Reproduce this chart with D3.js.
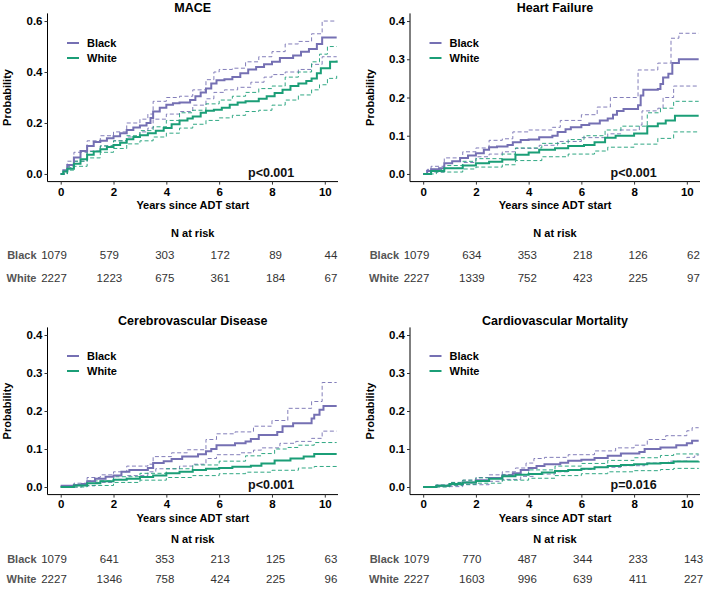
<!DOCTYPE html>
<html><head><meta charset="utf-8">
<script src="https://cdn.jsdelivr.net/npm/d3@7"></script>
<style>body{margin:0;background:#fff;}svg{display:block;font-family:"Liberation Sans",Arial,Helvetica,sans-serif;}</style>
</head><body><svg id="c" width="705" height="598"></svg>
<script>
// ---------- DATA ----------
const groups = ["Black", "White"];
const panelTitles = ["MACE", "Heart Failure", "Cerebrovascular Disease", "Cardiovascular Mortality"];
const pValues = ["p<0.001", "p<0.001", "p<0.001", "p=0.016"];
const timeTicks = [0, 2, 4, 6, 8, 10];
const yTicksMACE = [0, 0.2, 0.4, 0.6];
const yTicksOther = [0, 0.1, 0.2, 0.3, 0.4];
const riskLabel = "N at risk";
const xLabel = "Years since ADT start";
const yLabel = "Probability";

// N at risk
const riskMACE_Black = [1079, 579, 303, 172, 89, 44];
const riskMACE_White = [2227, 1223, 675, 361, 184, 67];
const riskHF_Black = [1079, 634, 353, 218, 126, 62];
const riskHF_White = [2227, 1339, 752, 423, 225, 97];
const riskCVD_Black = [1079, 641, 353, 213, 125, 63];
const riskCVD_White = [2227, 1346, 758, 424, 225, 96];
const riskCVM_Black = [1079, 770, 487, 344, 233, 143];
const riskCVM_White = [2227, 1603, 996, 639, 411, 227];

// Cumulative incidence curves [time, probability] (step after)
const maceBlackEst = [[0,0],[0.1,0.015],[0.25,0.035],[0.5,0.065],[0.75,0.09],[1.0,0.11],[1.25,0.125],[1.5,0.13],[1.75,0.14],[2.0,0.148],[2.25,0.16],[2.5,0.172],[2.75,0.182],[3.0,0.19],[3.25,0.2],[3.4,0.22],[3.5,0.245],[3.75,0.26],[4.0,0.272],[4.25,0.277],[4.5,0.28],[4.9,0.29],[5.1,0.305],[5.3,0.32],[5.5,0.335],[5.7,0.355],[5.9,0.368],[6.2,0.372],[6.5,0.38],[6.8,0.395],[7.1,0.41],[7.4,0.42],[7.7,0.43],[8.0,0.44],[8.3,0.455],[8.8,0.465],[9.1,0.48],[9.4,0.49],[9.7,0.51],[9.9,0.535],[10.45,0.535]];
const maceBlackUp = [[0,0],[0.25,0.05],[0.5,0.085],[1.0,0.13],[1.5,0.15],[2.0,0.165],[2.5,0.2],[3.0,0.215],[3.3,0.235],[3.5,0.285],[4.0,0.3],[4.5,0.305],[5.0,0.33],[5.5,0.37],[5.8,0.4],[6.0,0.41],[6.5,0.415],[7.0,0.44],[7.5,0.46],[8.0,0.48],[8.5,0.51],[9.0,0.52],[9.5,0.55],[9.9,0.6],[10.45,0.6]];
const maceBlackLo = [[0,0],[0.25,0.025],[0.5,0.05],[1.0,0.09],[1.5,0.11],[2.0,0.13],[2.5,0.145],[3.0,0.165],[3.3,0.18],[3.5,0.215],[4.0,0.235],[4.5,0.245],[5.0,0.27],[5.5,0.295],[5.8,0.32],[6.2,0.33],[6.7,0.34],[7.2,0.36],[7.7,0.38],[8.0,0.39],[8.5,0.4],[9.0,0.41],[9.5,0.43],[9.9,0.46],[10.45,0.46]];
const maceWhiteEst = [[0,0],[0.1,0.01],[0.25,0.02],[0.5,0.04],[0.75,0.058],[1.0,0.075],[1.25,0.088],[1.5,0.097],[1.75,0.106],[2.0,0.114],[2.25,0.122],[2.5,0.136],[2.75,0.145],[3.0,0.152],[3.3,0.16],[3.6,0.17],[3.9,0.18],[4.2,0.195],[4.5,0.21],[4.8,0.218],[5.0,0.225],[5.3,0.24],[5.5,0.248],[5.8,0.252],[6.1,0.26],[6.4,0.272],[6.7,0.28],[7.0,0.285],[7.5,0.295],[7.8,0.305],[8.1,0.318],[8.4,0.33],[8.7,0.345],[9.0,0.355],[9.3,0.365],[9.5,0.375],[9.7,0.395],[9.85,0.415],[10.2,0.44],[10.45,0.445]];
const maceWhiteUp = [[0,0],[0.25,0.03],[0.5,0.05],[1.0,0.088],[1.5,0.11],[2.0,0.13],[2.5,0.15],[3.0,0.17],[3.5,0.185],[4.0,0.21],[4.5,0.24],[5.0,0.25],[5.5,0.275],[6.0,0.29],[6.5,0.305],[7.0,0.32],[7.5,0.335],[8.0,0.345],[8.5,0.38],[9.0,0.4],[9.5,0.44],[9.8,0.47],[10.1,0.5],[10.45,0.5]];
const maceWhiteLo = [[0,0],[0.25,0.015],[0.5,0.03],[1.0,0.063],[1.5,0.085],[2.0,0.1],[2.5,0.118],[3.0,0.13],[3.5,0.145],[4.0,0.16],[4.5,0.18],[5.0,0.195],[5.5,0.21],[6.0,0.22],[6.5,0.23],[7.0,0.245],[7.5,0.25],[8.0,0.27],[8.5,0.29],[9.0,0.31],[9.5,0.33],[9.8,0.35],[10.1,0.375],[10.45,0.385]];

const hfBlackEst = [[0,0],[0.15,0.008],[0.3,0.012],[0.6,0.015],[0.8,0.028],[1.1,0.033],[1.4,0.042],[1.7,0.048],[2.0,0.054],[2.3,0.063],[2.5,0.07],[2.8,0.072],[3.2,0.076],[3.4,0.083],[3.7,0.089],[4.0,0.09],[4.4,0.096],[4.9,0.1],[5.1,0.11],[5.4,0.117],[5.6,0.122],[6.0,0.128],[6.3,0.132],[6.7,0.14],[7.0,0.145],[7.2,0.155],[7.35,0.165],[7.6,0.17],[8.15,0.18],[8.25,0.205],[8.35,0.22],[8.9,0.222],[9.0,0.235],[9.1,0.252],[9.3,0.262],[9.45,0.29],[9.7,0.3],[10.45,0.3]];
const hfBlackUp = [[0,0],[0.15,0.012],[0.3,0.02],[0.8,0.042],[1.5,0.058],[2.0,0.068],[2.5,0.088],[3.0,0.092],[3.4,0.11],[4.0,0.115],[4.9,0.122],[5.2,0.14],[6.0,0.155],[6.6,0.175],[7.1,0.2],[8.15,0.272],[8.9,0.29],[9.4,0.355],[9.7,0.368],[10.45,0.368]];
const hfBlackLo = [[0,0],[0.3,0.005],[0.8,0.015],[1.5,0.03],[2.0,0.045],[2.5,0.052],[3.0,0.058],[3.5,0.067],[4.4,0.075],[5.1,0.085],[6.0,0.095],[7.0,0.105],[7.5,0.115],[8.2,0.128],[8.3,0.165],[8.9,0.172],[9.1,0.2],[9.5,0.23],[10.45,0.23]];
const hfWhiteEst = [[0,0],[0.3,0.008],[0.8,0.015],[1.5,0.022],[2.0,0.028],[2.5,0.032],[3.0,0.038],[3.5,0.05],[4.0,0.056],[4.4,0.063],[5.0,0.067],[5.5,0.073],[6.1,0.076],[6.5,0.083],[6.9,0.095],[7.3,0.1],[8.0,0.106],[8.5,0.125],[8.9,0.132],[9.2,0.14],[9.55,0.152],[10.45,0.152]];
const hfWhiteUp = [[0,0],[0.3,0.012],[0.8,0.022],[1.5,0.033],[2.0,0.04],[3.0,0.052],[3.5,0.068],[4.5,0.08],[5.5,0.09],[6.1,0.1],[6.9,0.115],[7.5,0.125],[8.5,0.16],[9.0,0.172],[9.5,0.19],[10.45,0.19]];
const hfWhiteLo = [[0,0],[0.5,0.005],[1.5,0.013],[2.0,0.018],[3.0,0.024],[3.5,0.035],[4.5,0.045],[5.5,0.052],[6.5,0.06],[7.0,0.07],[8.0,0.078],[8.9,0.093],[9.5,0.11],[10.45,0.112]];

const cvdBlackEst = [[0,0.003],[0.5,0.005],[0.8,0.008],[1.0,0.015],[1.3,0.022],[1.7,0.027],[2.0,0.03],[2.3,0.04],[2.6,0.045],[3.3,0.05],[3.5,0.063],[3.9,0.068],[4.2,0.074],[4.6,0.08],[5.2,0.086],[5.5,0.094],[5.7,0.1],[5.9,0.11],[6.6,0.115],[7.0,0.12],[7.2,0.126],[7.5,0.137],[8.2,0.145],[8.4,0.16],[8.8,0.168],[9.5,0.18],[9.6,0.19],[9.8,0.203],[9.95,0.213],[10.45,0.213]];
const cvdBlackUp = [[0,0.003],[0.5,0.01],[1.0,0.025],[1.5,0.032],[2.0,0.04],[2.5,0.055],[3.3,0.06],[3.5,0.08],[4.2,0.09],[4.8,0.098],[5.5,0.125],[5.9,0.14],[6.6,0.145],[7.3,0.16],[8.0,0.175],[8.6,0.207],[9.5,0.225],[9.9,0.275],[10.45,0.275]];
const cvdBlackLo = [[0,0],[0.8,0.003],[1.3,0.012],[2.0,0.02],[2.5,0.03],[3.3,0.04],[3.6,0.048],[4.5,0.055],[5.0,0.06],[5.5,0.075],[5.9,0.085],[6.8,0.09],[7.3,0.097],[7.6,0.103],[8.3,0.115],[8.9,0.12],[9.5,0.128],[9.9,0.147],[10.45,0.147]];
const cvdWhiteEst = [[0,0],[0.5,0.004],[1.0,0.01],[1.5,0.015],[2.0,0.019],[2.5,0.022],[3.0,0.026],[3.5,0.03],[4.0,0.036],[4.5,0.04],[5.0,0.045],[5.5,0.048],[6.0,0.05],[6.5,0.053],[7.2,0.056],[7.6,0.062],[8.1,0.07],[8.7,0.075],[9.2,0.08],[9.6,0.087],[10.45,0.087]];
const cvdWhiteUp = [[0,0],[0.5,0.007],[1.0,0.016],[2.0,0.027],[3.0,0.036],[4.0,0.048],[5.0,0.058],[6.0,0.068],[7.0,0.082],[7.6,0.088],[8.1,0.1],[8.6,0.104],[9.0,0.11],[9.6,0.117],[10.45,0.117]];
const cvdWhiteLo = [[0,0],[1.0,0.004],[2.0,0.012],[3.0,0.018],[4.0,0.025],[5.0,0.03],[6.0,0.035],[7.0,0.039],[8.0,0.044],[9.0,0.05],[9.6,0.054],[10.45,0.055]];

const cvmBlackEst = [[0,0],[0.5,0.003],[1.0,0.007],[1.5,0.012],[2.0,0.018],[2.5,0.024],[3.0,0.03],[3.4,0.036],[3.7,0.045],[4.0,0.05],[4.3,0.055],[4.6,0.06],[5.2,0.064],[5.5,0.069],[6.0,0.072],[6.5,0.076],[7.0,0.082],[7.5,0.088],[8.2,0.092],[8.4,0.1],[9.0,0.104],[9.6,0.11],[10.0,0.115],[10.2,0.122],[10.45,0.122]];
const cvmBlackUp = [[0,0],[0.5,0.005],[1.0,0.012],[1.5,0.018],[2.0,0.025],[2.5,0.032],[3.0,0.04],[3.5,0.05],[3.9,0.063],[4.2,0.075],[4.6,0.078],[5.5,0.085],[6.5,0.095],[7.3,0.103],[8.0,0.11],[8.5,0.125],[9.2,0.135],[10.0,0.148],[10.2,0.156],[10.45,0.156]];
const cvmBlackLo = [[0,0],[0.5,0.001],[1.5,0.006],[2.5,0.015],[3.0,0.02],[3.7,0.028],[4.2,0.034],[5.0,0.04],[5.5,0.046],[6.5,0.052],[7.5,0.056],[8.4,0.063],[9.3,0.068],[10.0,0.078],[10.3,0.084],[10.45,0.085]];
const cvmWhiteEst = [[0,0],[0.5,0.003],[1.0,0.008],[1.5,0.012],[2.0,0.016],[2.5,0.022],[3.0,0.028],[3.5,0.032],[4.0,0.034],[4.5,0.038],[5.0,0.042],[5.5,0.045],[6.0,0.048],[6.5,0.052],[7.0,0.055],[7.5,0.058],[8.0,0.06],[8.5,0.062],[9.0,0.063],[9.5,0.067],[10.45,0.068]];
const cvmWhiteUp = [[0,0],[0.5,0.005],[1.0,0.012],[1.5,0.018],[2.0,0.024],[3.0,0.033],[4.0,0.045],[5.0,0.055],[6.0,0.062],[7.0,0.07],[8.0,0.077],[9.0,0.083],[9.5,0.087],[10.45,0.087]];
const cvmWhiteLo = [[0,0],[1.0,0.004],[1.5,0.007],[2.0,0.01],[3.0,0.018],[4.0,0.023],[5.0,0.03],[6.0,0.035],[7.0,0.04],[8.0,0.043],[9.0,0.046],[9.5,0.049],[10.45,0.05]];

// ---------- LAYOUT ----------
const colors = {Black: "#7570B3", White: "#1B9E77"};
const panelData = [
  {yTicks: yTicksMACE, yMax: 0.6, fmt: ".1f",
   curves: {Black: [maceBlackEst, maceBlackUp, maceBlackLo], White: [maceWhiteEst, maceWhiteUp, maceWhiteLo]},
   risk: {Black: riskMACE_Black, White: riskMACE_White}},
  {yTicks: yTicksOther, yMax: 0.4, fmt: ".1f",
   curves: {Black: [hfBlackEst, hfBlackUp, hfBlackLo], White: [hfWhiteEst, hfWhiteUp, hfWhiteLo]},
   risk: {Black: riskHF_Black, White: riskHF_White}},
  {yTicks: yTicksOther, yMax: 0.4, fmt: ".1f",
   curves: {Black: [cvdBlackEst, cvdBlackUp, cvdBlackLo], White: [cvdWhiteEst, cvdWhiteUp, cvdWhiteLo]},
   risk: {Black: riskCVD_Black, White: riskCVD_White}},
  {yTicks: yTicksOther, yMax: 0.4, fmt: ".1f",
   curves: {Black: [cvmBlackEst, cvmBlackUp, cvmBlackLo], White: [cvmWhiteEst, cvmWhiteUp, cvmWhiteLo]},
   risk: {Black: riskCVM_Black, White: riskCVM_White}}
];
const colX = [{axis: 47.5, right: 338}, {axis: 410, right: 700}];
const rowY = [
  {top: 13.4, bottom: 181.6, title: 12, tick: 196.5, xlab: 209, risk: 237, rows: [259, 282], legend: [43, 58], pv: 177},
  {top: 327.4, bottom: 494.6, title: 324.5, tick: 508.5, xlab: 522, risk: 543, rows: [563, 582.5], legend: [356, 371], pv: 489}
];

const svg = d3.select("#c");

panelData.forEach((p, i) => {
  const cx = colX[i % 2], ry = rowY[Math.floor(i / 2)];
  const g = svg.append("g");
  const pad = p.yMax * 0.05;
  const x = d3.scaleLinear().domain([-0.5, 10.5]).range([cx.axis, cx.right]);
  const y = d3.scaleLinear().domain([-pad, p.yMax + pad]).range([ry.bottom, ry.top]);
  const midX = (cx.axis + cx.right) / 2;

  // title
  g.append("text").attr("x", midX).attr("y", ry.title).attr("text-anchor", "middle")
    .attr("font-size", 12.5).attr("font-weight", "bold").attr("fill", "#000").text(panelTitles[i]);

  // curves
  const line = d3.line().x(d => x(d[0])).y(d => y(d[1])).curve(d3.curveStepAfter);
  groups.forEach(grp => {
    const [est, up, lo] = p.curves[grp];
    [up, lo].forEach(c => {
      g.append("path").attr("d", line(c)).attr("fill", "none").attr("stroke", colors[grp])
        .attr("stroke-width", 1).attr("stroke-dasharray", "4,2.5").attr("opacity", 0.9);
    });
  });
  groups.forEach(grp => {
    const est = p.curves[grp][0];
    g.append("path").attr("d", line(est)).attr("fill", "none").attr("stroke", colors[grp])
      .attr("stroke-width", 2);
  });

  // axes
  const yAxis = d3.axisLeft(y).tickValues(p.yTicks).tickFormat(d3.format(p.fmt)).tickSize(3).tickPadding(2);
  const ya = g.append("g").attr("transform", `translate(${cx.axis},0)`).call(yAxis);
  const xAxis = d3.axisBottom(x).tickValues(timeTicks).tickFormat(d3.format("d")).tickSize(3).tickPadding(2);
  const xa = g.append("g").attr("transform", `translate(0,${ry.bottom})`).call(xAxis);
  [ya, xa].forEach(a => {
    a.select(".domain").attr("stroke", "#000").attr("stroke-width", 1)
      .attr("d", a === ya ? `M0,${ry.top}V${ry.bottom}` : `M${cx.axis},0H${cx.right}`);
    a.selectAll(".tick line").attr("stroke", "#333");
    a.selectAll(".tick text").attr("font-size", 11.5).attr("font-weight", "bold").attr("fill", "#000")
      .attr("font-family", '"Liberation Sans",Arial,sans-serif');
  });
  xa.selectAll(".tick text").attr("dy", null).attr("y", ry.tick - ry.bottom);

  // axis titles
  g.append("text").attr("x", midX).attr("y", ry.xlab).attr("text-anchor", "middle")
    .attr("font-size", 11).attr("font-weight", "bold").text(xLabel);
  g.append("text").attr("transform", `translate(${cx.axis - 36.5},${(ry.top + ry.bottom) / 2}) rotate(-90)`)
    .attr("text-anchor", "middle").attr("font-size", 11).attr("font-weight", "bold").text(yLabel);

  // legend
  groups.forEach((grp, k) => {
    const ly = ry.legend[k];
    g.append("line").attr("x1", cx.axis + 19.5).attr("x2", cx.axis + 31.5).attr("y1", ly).attr("y2", ly)
      .attr("stroke", colors[grp]).attr("stroke-width", 2);
    g.append("text").attr("x", cx.axis + 39.5).attr("y", ly + 4).attr("font-size", 11)
      .attr("font-weight", "bold").text(grp);
  });

  // p-value
  g.append("text").attr("x", cx.axis + 200.5).attr("y", ry.pv).attr("font-size", 12.5)
    .attr("font-weight", "bold").attr("fill", "#111").text(pValues[i]);

  // risk table
  g.append("text").attr("x", midX).attr("y", ry.risk).attr("text-anchor", "middle")
    .attr("font-size", 11).attr("font-weight", "bold").text(riskLabel);
  const tx = d3.scaleLinear().domain([0, 10]).range([cx.axis + 6.5, cx.axis + 283.5]);
  groups.forEach((grp, k) => {
    const yy = ry.rows[k];
    g.append("text").attr("x", cx.axis - 11).attr("y", yy).attr("text-anchor", "end")
      .attr("font-size", 11).attr("font-weight", "bold").attr("fill", "#555").text(grp);
    g.selectAll(null).data(p.risk[grp]).enter().append("text")
      .attr("x", (d, j) => tx(timeTicks[j])).attr("y", yy).attr("text-anchor", "middle")
      .attr("font-size", 11.5).attr("fill", "#333").text(d => d);
  });
});
</script></body></html>
